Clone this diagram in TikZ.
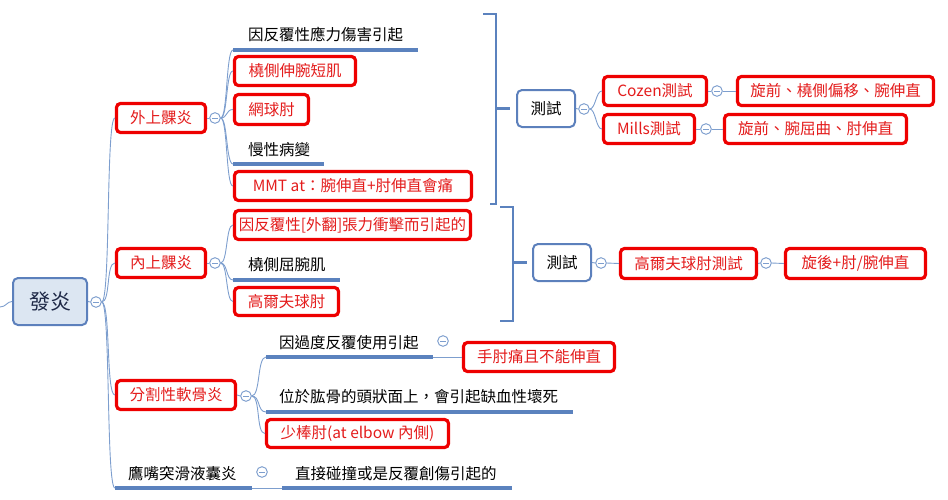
\documentclass[tikz,border=0pt]{standalone}
\usepackage{fontspec}
\setmainfont{Noto Sans CJK TC}
\definecolor{ulblue}{RGB}{91,130,190}
\definecolor{cnblue}{RGB}{125,158,206}
\definecolor{boxred}{RGB}{238,0,0}
\definecolor{txtred}{RGB}{228,28,28}
\definecolor{rootfill}{RGB}{220,230,242}
\definecolor{rootdraw}{RGB}{92,128,188}
\definecolor{roottext}{RGB}{30,40,70}
\newcommand{\fs}{\fontsize{15.5}{18}\selectfont}
\tikzset{
  redbox/.style={draw=boxred, line width=3.2pt, rounded corners=4pt, fill=white, text=txtred, inner sep=0pt, font=\fs},
  bluebox/.style={draw=rootdraw, line width=2pt, rounded corners=5pt, fill=white, inner sep=0pt, font=\fs},
  plain/.style={anchor=west, inner sep=0pt, font=\fs},
  ul/.style={draw=ulblue, line width=3.2pt},
  conn/.style={draw=cnblue, line width=0.9pt},
  brk/.style={draw=ulblue, line width=2.4pt},
  coll/.style={circle, draw=cnblue, line width=0.8pt, fill=white, minimum size=10.5pt, inner sep=0pt,
    path picture={\draw[cnblue, line width=0.8pt] ([xshift=-2.6pt]path picture bounding box.center) -- ([xshift=2.6pt]path picture bounding box.center);}},
}
\begin{document}
\begin{tikzpicture}[x=1pt,y=-1pt]
\useasboundingbox (0,0) rectangle (948,499);

% root
\node[draw=rootdraw, fill=rootfill, line width=2pt, rounded corners=5pt, minimum width=74, minimum height=47, inner sep=0pt,
  font=\fontsize{21}{24}\selectfont, text=roottext] (root) at (50,301.5) {發炎};
\coordinate (lft) at (0,307);
\node[coll] (c0) at (96,302) {};

% level 1
\node[redbox, minimum width=89, minimum height=29] (outer) at (161,118) {外上髁炎};
\node[redbox, minimum width=89, minimum height=29] (inner) at (161,263) {內上髁炎};
\node[redbox, minimum width=119, minimum height=29] (ocd) at (176,395) {分割性軟骨炎};
\node[plain] (olec) at (128,474) {鷹嘴突滑液囊炎};
\coordinate (olec-s) at (115,488); \coordinate (olec-e) at (252,488);

% outer children
\node[coll] (co) at (215,118) {};
\node[plain] (o1) at (248,35) {因反覆性應力傷害引起};
\coordinate (o1-s) at (233,50); \coordinate (o1-e) at (418,50);
\node[redbox, minimum width=121, minimum height=29] (o2) at (295,71) {橈側伸腕短肌};
\node[redbox, minimum width=74, minimum height=30] (o3) at (271.5,109.5) {網球肘};
\node[plain] (o4) at (248,150) {慢性病變};
\coordinate (o4-s) at (233,164); \coordinate (o4-e) at (324,164);
\node[redbox, minimum width=237, minimum height=29] (o5) at (353,186) {MMT at：腕伸直+肘伸直會痛};

% test 1
\coordinate (b1t) at (483,14); \coordinate (b1tv) at (496,14);
\coordinate (b1b) at (490,204); \coordinate (b1bv) at (496,204);
\coordinate (b1m) at (496,108.5);
\node[bluebox, minimum width=58, minimum height=37] (t1) at (546,108.5) {測試};
\node[coll] (ct1) at (584,109) {};
\node[redbox, minimum width=103, minimum height=29] (cozen) at (655,91) {Cozen測試};
\node[redbox, minimum width=91, minimum height=29] (mills) at (649,129) {Mills測試};
\node[coll] (ccoz) at (717,91) {};
\node[coll] (cmil) at (706,129) {};
\node[redbox, minimum width=196, minimum height=29] (cozenR) at (835.5,91) {旋前、橈側偏移、腕伸直};
\node[redbox, minimum width=182, minimum height=29] (millsR) at (815.5,129) {旋前、腕屈曲、肘伸直};

% inner children
\node[coll] (ci) at (215,263) {};
\node[redbox, minimum width=236, minimum height=29] (i1) at (352.5,225) {因反覆性[外翻]張力衝擊而引起的};
\node[plain] (i2) at (248,265) {橈側屈腕肌};
\coordinate (i2-s) at (233,280); \coordinate (i2-e) at (340,280);
\node[redbox, minimum width=104, minimum height=28] (i3) at (286.5,301.5) {高爾夫球肘};

% test 2
\coordinate (b2t) at (500,207); \coordinate (b2tv) at (513,207);
\coordinate (b2b) at (500,321); \coordinate (b2bv) at (513,321);
\coordinate (b2m) at (513,262.5);
\node[bluebox, minimum width=58, minimum height=37] (t2) at (562,262.5) {測試};
\node[coll] (ct2) at (601,263) {};
\node[redbox, minimum width=136, minimum height=30] (golf) at (688.5,263.5) {高爾夫球肘測試};
\node[coll] (cgolf) at (766,263) {};
\node[redbox, minimum width=140, minimum height=30] (golfR) at (855.5,263.5) {旋後+肘/腕伸直};

% ocd children
\node[coll] (cd) at (246,396) {};
\node[plain] (d1) at (279,343) {因過度反覆使用引起};
\coordinate (d1-s) at (266,357); \coordinate (d1-e) at (433,357);
\node[coll] (cd1) at (443,341) {};
\node[redbox, minimum width=151, minimum height=29] (d1R) at (539,357) {手肘痛且不能伸直};
\node[plain] (d2) at (279,397) {位於肱骨的頭狀面上，會引起缺血性壞死};
\coordinate (d2-s) at (266,412); \coordinate (d2-e) at (573,412);
\node[redbox, minimum width=182, minimum height=28] (d3) at (357.5,433.5) {少棒肘(at elbow 內側)};

% olecranon child
\node[coll] (col) at (262,472) {};
\node[plain] (olC) at (295,474) {直接碰撞或是反覆創傷引起的};
\coordinate (olC-s) at (282,488); \coordinate (olC-e) at (512,488);

% ---------- connectors ----------
\draw[conn] (lft) .. controls +(6,0) and +(-5,0) .. (root.west);
\draw[conn] (root.east) -- (c0.west);
\foreach \t in {outer.west, inner.west, ocd.west, olec-s}
  \draw[conn] (c0.east) .. controls +(9,0) and +(-9,0) .. (\t);
\draw[conn] (outer.east) -- (co.west);
\foreach \t in {o1-s, o2.west, o3.west, o4-s, o5.west}
  \draw[conn] (co.east) .. controls +(7,0) and +(-7,0) .. (\t);
\draw[conn] (inner.east) -- (ci.west);
\foreach \t in {i1.west, i2-s, i3.west}
  \draw[conn] (ci.east) .. controls +(7,0) and +(-7,0) .. (\t);
\draw[conn] (ocd.east) -- (cd.west);
\foreach \t in {d1-s, d2-s, d3.west}
  \draw[conn] (cd.east) .. controls +(9,0) and +(-9,0) .. (\t);
\draw[conn] (d1-e) -- (d1R.west);
\draw[conn] (olec-e) -- (olC-s);
\draw[conn] (t1.east) -- (ct1.west);
\foreach \t in {cozen.west, mills.west}
  \draw[conn] (ct1.east) .. controls +(6,0) and +(-6,0) .. (\t);
\draw[conn] (cozen.east) -- (ccoz.west);
\draw[conn] (ccoz.east) -- (cozenR.west);
\draw[conn] (mills.east) -- (cmil.west);
\draw[conn] (cmil.east) -- (millsR.west);
\draw[conn] (t2.east) -- (ct2.west);
\draw[conn] (ct2.east) -- (golf.west);
\draw[conn] (golf.east) -- (cgolf.west);
\draw[conn] (cgolf.east) -- (golfR.west);

% redraw circles on top
\foreach \c in {c0,co,ci,cd,col,ct1,ccoz,cmil,ct2,cgolf,cd1}
  \node[coll] at (\c) {};

% underlines
\draw[ul] (o1-s) -- (o1-e);
\draw[ul] (o4-s) -- (o4-e);
\draw[ul] (i2-s) -- (i2-e);
\draw[ul] (d1-s) -- (d1-e);
\draw[ul] (d2-s) -- (d2-e);
\draw[ul] (olec-s) -- (olec-e);
\draw[ul] (olC-s) -- (olC-e);

% brackets
\draw[brk] (b1t) -- (b1tv) -- (b1bv) -- (b1b);
\draw[brk] (b1m) -- ([xshift=-6]t1.west);
\draw[brk] (b2t) -- (b2tv) -- (b2bv) -- (b2b);
\draw[brk] (b2m) -- ([xshift=-5]t2.west);
\end{tikzpicture}
\end{document}
